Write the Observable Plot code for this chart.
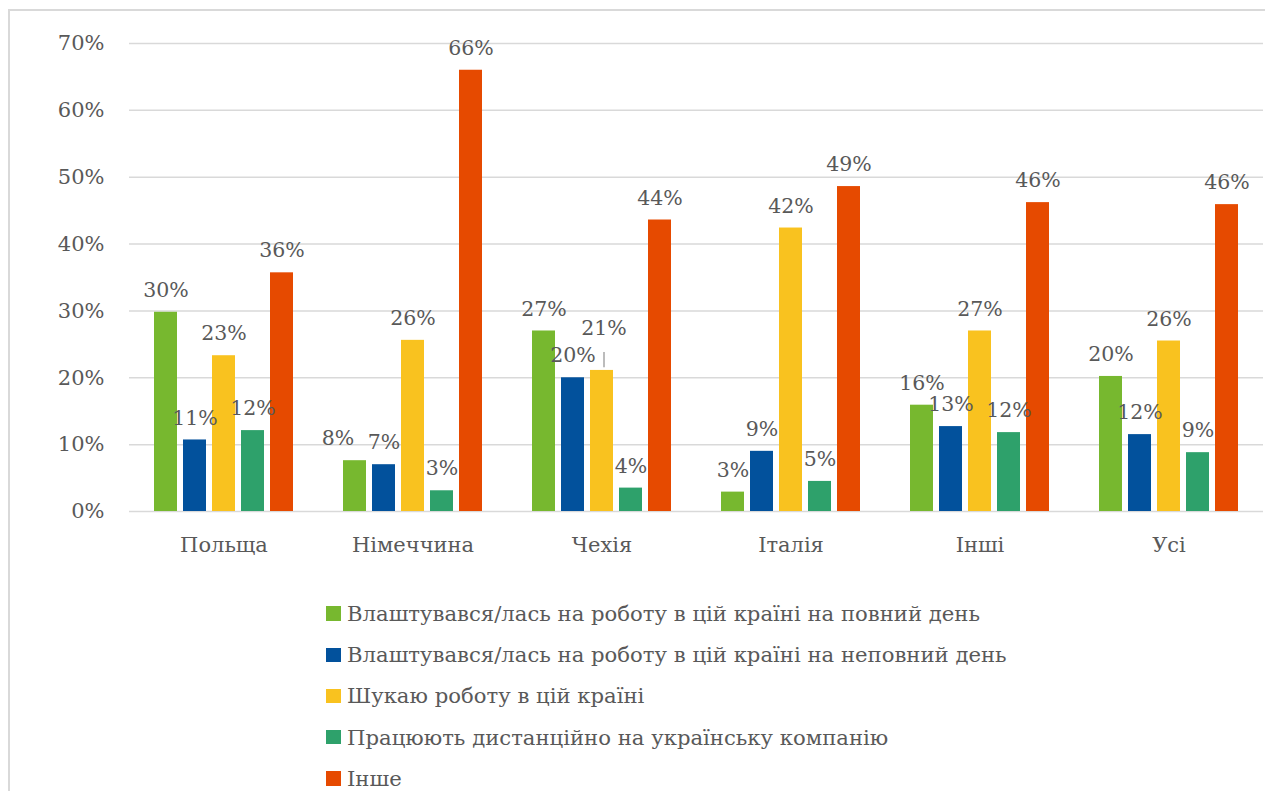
<!DOCTYPE html>
<html>
<head>
<meta charset="utf-8">
<script src="https://cdn.jsdelivr.net/npm/d3@7"></script>
<script src="https://cdn.jsdelivr.net/npm/@observablehq/plot@0.6"></script>
<style>
  html, body { margin: 0; padding: 0; background: #fff; }
  #wrap { position: relative; width: 1279px; height: 791px; overflow: hidden; }
  #frame { position: absolute; left: 8px; top: 9px; width: 1255px; height: 800px;
           border-left: 2px solid #d9d9d9; border-top: 2px solid #d9d9d9; }
  #chart { position: absolute; left: 0; top: 0; }
  #chart svg text { font-family: "DejaVu Serif", serif !important; font-size: 21px !important; fill: #595959; }
  #chart svg g.barlabel text { font-size: 20.5px !important; }
  #legend { position: absolute; left: 326px; top: 593px; font-family: "DejaVu Serif", serif;
            font-size: 21.3px; color: #595959; }
  #legend .item { display: flex; align-items: center; height: 41.2px; white-space: nowrap; }
  #legend .sw { width: 14.5px; height: 14.5px; margin-right: 6px; flex: none; }
  #legend .lab { display: inline-block; transform-origin: left center; }
</style>
</head>
<body>
<div id="wrap">
  <div id="frame"></div>
  <div id="chart"></div>
  <div id="legend"></div>
</div>
<script>
const categories = ["Польща", "Німеччина", "Чехія", "Італія", "Інші", "Усі"];
const seriesNames = [
  "Влаштувався/лась на роботу в цій країні на повний день",
  "Влаштувався/лась на роботу в цій країні на неповний день",
  "Шукаю роботу в цій країні",
  "Працюють дистанційно на українську компанію",
  "Інше"
];
const seriesColors = ["#77b82f", "#02519c", "#f9c21f", "#2ea16b", "#e64a00"];
const fullDay  = [29.8, 7.6, 27.0, 2.9, 15.9, 20.2];
const partDay  = [10.7, 7.0, 20.0, 9.0, 12.7, 11.5];
const seeking  = [23.3, 25.6, 21.1, 42.4, 27.0, 25.5];
const remote   = [12.1, 3.1, 3.5, 4.5, 11.8, 8.8];
const other    = [35.7, 66.0, 43.6, 48.6, 46.2, 45.9];
const yTicks = [0, 10, 20, 30, 40, 50, 60, 70];

const seriesValues = [fullDay, partDay, seeking, remote, other];
const rows = [];
categories.forEach((c, i) => {
  seriesNames.forEach((s, j) => {
    const v = seriesValues[j][i];
    const prev = j > 0 ? seriesValues[j - 1][i] : null;
    const next = j < seriesNames.length - 1 ? seriesValues[j + 1][i] : null;
    // simple label collision handling like the spreadsheet's: lift a label that
    // would sit on its left neighbour, or nudge left a label whose right neighbour is level with it
    const lift = prev !== null && v > prev && v - prev < 1.5;
    const nudge = next !== null && v > next && v - next < 1.5;
    rows.push({category: c, series: s, value: v, label: Math.round(v) + "%", lift, nudge});
  });
});
const plain = rows.filter(d => !d.lift && !d.nudge);
const lifted = rows.filter(d => d.lift);
const nudged = rows.filter(d => d.nudge);

const chart = Plot.plot({
  width: 1279,
  height: 560,
  marginLeft: 128,
  marginRight: 16,
  marginTop: 43,
  marginBottom: 49,
  fx: {domain: categories, padding: 0, label: null, axis: "bottom", tickSize: 0, tickPadding: 26},
  x: {domain: seriesNames, axis: null, paddingInner: 0.215, paddingOuter: 0.83},
  y: {domain: [0, 70], ticks: yTicks, tickFormat: d => d + "%", label: null, tickSize: 0, tickPadding: 25},
  color: {domain: seriesNames, range: seriesColors},
  marks: [
    Plot.ruleY(yTicks, {stroke: "#d9d9d9", strokeWidth: 1.5}),
    Plot.barY(rows, {fx: "category", x: "series", y: "value", fill: "series"}),
    Plot.text(plain, {fx: "category", x: "series", y: "value", text: "label", dy: -22, fill: "#595959", className: "barlabel"}),
    Plot.text(nudged, {fx: "category", x: "series", y: "value", text: "label", dy: -22, dx: -17, fill: "#595959", className: "barlabel"}),
    Plot.text(lifted, {fx: "category", x: "series", y: "value", text: "label", dy: -42, dx: 2, fill: "#595959", className: "barlabel"}),
    Plot.ruleX(lifted, {fx: "category", x: "series", y1: d => d.value + 0.4, y2: d => d.value + 2.7,
      stroke: "#a6a6a6", strokeWidth: 1.5, dx: 2})
  ]
});
document.getElementById("chart").appendChild(chart);

const legend = document.getElementById("legend");
const targetWidth = 633; // width of the first legend entry in the reference
let scale = null;
seriesNames.forEach((s, j) => {
  const item = document.createElement("div");
  item.className = "item";
  const sw = document.createElement("span");
  sw.className = "sw";
  sw.style.background = seriesColors[j];
  const lab = document.createElement("span");
  lab.className = "lab";
  lab.textContent = s;
  item.appendChild(sw);
  item.appendChild(lab);
  legend.appendChild(item);
  if (scale === null) scale = Math.min(1, targetWidth / lab.getBoundingClientRect().width);
  lab.style.transform = `scaleX(${scale})`;
});
</script>
</body>
</html>
